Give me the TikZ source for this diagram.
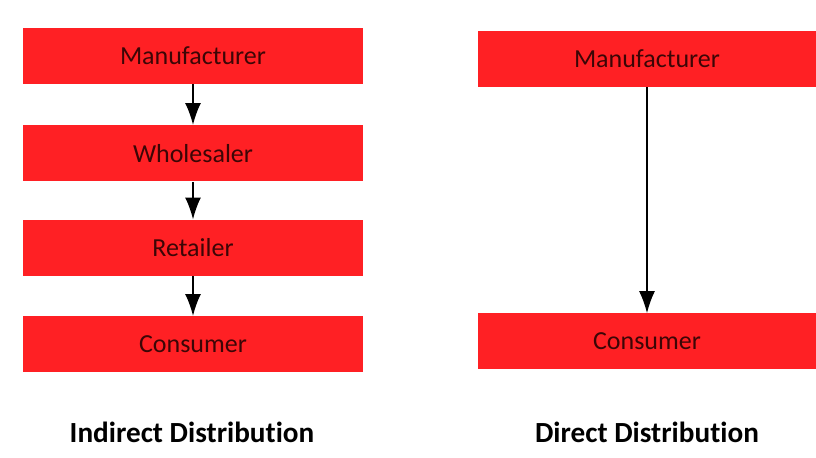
\documentclass[tikz,border=0pt]{standalone}
\usepackage{fontspec}
\setmainfont[Ligatures=NoCommon]{Carlito}
\usepackage{xcolor}
\usepackage{tikz}
\usetikzlibrary{arrows.meta}
\definecolor{boxred}{RGB}{255,32,36}
\definecolor{boxtext}{RGB}{60,6,6}

\begin{document}
\begin{tikzpicture}[x=0.5pt,y=-0.5pt,
  box/.style={rectangle,fill=boxred,inner sep=0pt,minimum width=170pt,minimum height=28pt,text=boxtext,font=\fontsize{13}{15}\selectfont},
  caption/.style={font=\fontsize{14.6}{17}\selectfont\bfseries},
  flow/.style={-{Latex[length=11pt,width=8pt]},line width=1pt}]
\useasboundingbox (0,0) rectangle (816,458);
\node (m1) at (193,56)    [box] {Manufacturer};
\node (w1) at (193,153.5) [box] {Wholesaler};
\node (r1) at (193,248)   [box] {Retailer};
\node (c1) at (193,344.5) [box] {Consumer};
\node (m2) at (647,59)    [box,minimum width=169pt] {Manufacturer};
\node (c2) at (647,341.5) [box,minimum width=169pt] {Consumer};
\node (t1) at (192,432) [caption] {Indirect Distribution};
\node (t2) at (647,432) [caption] {Direct Distribution};
\draw [flow] (m1) -- (w1);
\draw [flow] (w1) -- (r1);
\draw [flow] (r1) -- (c1);
\draw [flow,line width=0.6pt] (m2) -- (c2);
\end{tikzpicture}
\end{document}
